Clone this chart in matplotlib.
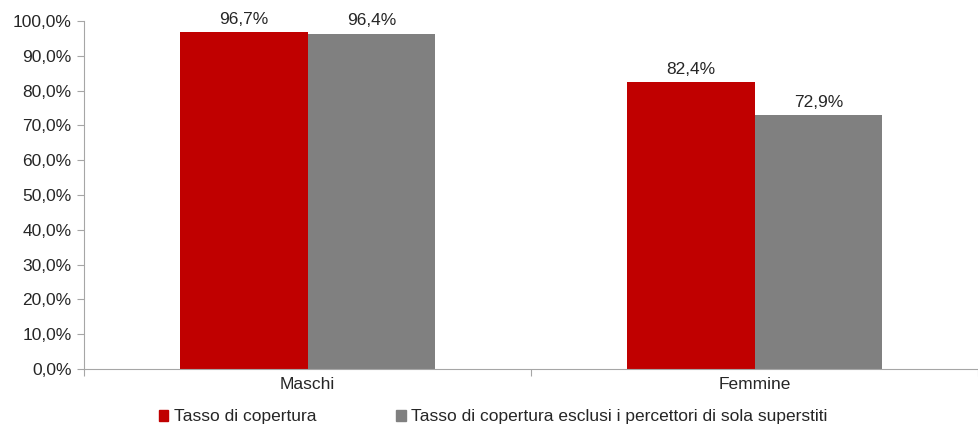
import numpy as np
import matplotlib.pyplot as plt
from matplotlib.patches import Patch

plt.rcParams['font.family'] = ['Liberation Sans', 'DejaVu Sans']

# --- dati ---
categorie = ['Maschi', 'Femmine']
tasso_copertura = [96.7, 82.4]
tasso_esclusi = [96.4, 72.9]
etichette_serie = ['Tasso di copertura',
                   'Tasso di copertura esclusi i percettori di sola superstiti']

ROSSO = '#C00000'
GRIGIO = '#808080'
ASSE = '#A6A6A6'
TESTO = '#262626'
FS = 12.5

fig = plt.figure(figsize=(9.79, 4.30), dpi=100)
ax = fig.add_axes([84 / 979, 61 / 430, 1 - 84 / 979 - 0.001, (369 - 21) / 430])

x = np.arange(len(categorie))
w = 128 / 448
b1 = ax.bar(x - w / 2, tasso_copertura, w, color=ROSSO)
b2 = ax.bar(x + w / 2, tasso_esclusi, w, color=GRIGIO)

for bars, vals in ((b1, tasso_copertura), (b2, tasso_esclusi)):
    for r, v in zip(bars, vals):
        ax.text(r.get_x() + r.get_width() / 2, v + 1.6, f'{v:.1f}%'.replace('.', ','),
                ha='center', va='bottom', fontsize=FS, color=TESTO)

ax.set_xlim(-0.5, len(categorie) - 0.5)
ax.set_ylim(0, 100)
ax.set_yticks(np.arange(0, 101, 10))
ax.set_yticklabels([f'{v:.1f}%'.replace('.', ',') for v in np.arange(0, 101, 10)])

ax.set_xticks(np.arange(-0.5, len(categorie)), minor=False)
ax.set_xticklabels([])
ax.set_xticks(x, minor=True)
ax.set_xticklabels(categorie, minor=True)
ax.tick_params(axis='x', which='minor', length=0, pad=6, labelsize=FS, labelcolor=TESTO)
ax.tick_params(axis='x', which='major', length=5, color=ASSE)
ax.tick_params(axis='y', length=5, color=ASSE, labelsize=FS, labelcolor=TESTO, pad=4)

for s in ('top', 'right'):
    ax.spines[s].set_visible(False)
for s in ('left', 'bottom'):
    ax.spines[s].set_color(ASSE)

handles = [Patch(color=ROSSO), Patch(color=GRIGIO)]
fig.legend(handles, etichette_serie, loc='center', bbox_to_anchor=(493 / 979, 13 / 430),
           ncol=2, frameon=False, fontsize=FS, handlelength=0.55, handleheight=0.55,
           handletextpad=0.3, columnspacing=4.6, labelcolor=TESTO)

fig.savefig('out.png', dpi=100)
